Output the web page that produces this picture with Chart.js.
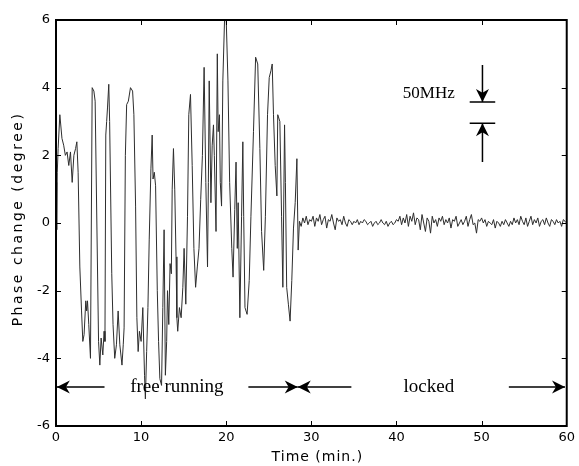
<!DOCTYPE html>
<html>
<head>
<meta charset="utf-8">
<script src="https://cdn.jsdelivr.net/npm/chart.js@4.4.1/dist/chart.umd.min.js"></script>
<style>
  html, body { margin: 0; padding: 0; background: #fff; }
</style>
</head>
<body>
<canvas id="phaseChart" width="579" height="466"></canvas>
<script>
// Free running part: times (min.) and phase change (degree)
const freeT = [0.0, 0.08, 0.15, 0.25, 0.45, 0.7, 0.9, 1.1, 1.3, 1.5, 1.7, 1.9, 2.1, 2.3, 2.45, 2.6, 2.8, 3.0, 3.15, 3.3,
  3.5, 3.6, 3.7, 3.85, 4.05, 4.25, 4.45, 4.6, 4.8, 5.0, 5.15, 5.3, 5.5, 5.65, 5.75, 5.85, 5.95, 6.05, 6.2, 6.3,
  6.55, 6.7, 6.9, 7.1, 7.3, 7.5, 7.75, 7.9, 8.0, 8.15, 8.3, 8.5, 8.75, 9.0, 9.15, 9.35, 9.5, 9.65, 9.8, 10.0,
  10.2, 10.4, 10.5, 10.65, 10.8, 10.95, 11.15, 11.3, 11.4, 11.55, 11.7, 11.9, 12.05, 12.2, 12.4, 12.55, 12.7, 12.85, 13.0, 13.1,
  13.25, 13.4, 13.55, 13.65, 13.8, 13.95, 14.1, 14.2, 14.3, 14.5, 14.7, 14.9, 15.05, 15.25, 15.45, 15.6, 15.8, 16.0, 16.2, 16.4,
  16.6, 16.8, 17.0, 17.2, 17.4, 17.6, 17.8, 17.9, 18.0, 18.2, 18.35, 18.5, 18.6, 18.8, 18.95, 19.05, 19.2, 19.3, 19.45, 19.6,
  19.8, 20.0, 20.2, 20.4, 20.65, 20.8, 21.0, 21.15, 21.3, 21.4, 21.6, 21.8, 21.95, 22.05, 22.2, 22.45, 22.7, 22.9, 23.2, 23.45,
  23.7, 23.95, 24.15, 24.4, 24.6, 24.85, 25.05, 25.25, 25.4, 25.55, 25.75, 25.95, 26.05, 26.3, 26.5, 26.65, 26.85, 26.95, 27.1, 27.3,
  27.5, 27.7, 27.9, 28.1, 28.3, 28.45];
const freeV = [1.2, -0.2, 1.5, 2.2, 3.2, 2.5, 2.3, 2.0, 2.1, 1.7, 2.1, 1.2, 2.0, 2.2, 2.4, 1.5, -1.3, -2.6, -3.5, -3.3,
  -2.3, -2.6, -2.3, -3.0, -4.0, 4.0, 3.9, 3.6, 0.0, -3.5, -4.2, -3.4, -3.9, -3.2, -3.5, 2.6, 3.0, 3.4, 4.1, 3.0,
  -1.5, -3.0, -4.0, -3.6, -2.6, -3.6, -4.2, -3.6, -3.1, 2.0, 3.5, 3.6, 4.0, 3.9, 3.2, 0.5, -2.8, -3.8, -3.2, -3.5,
  -2.5, -4.5, -5.2, -3.8, -2.5, -0.5, 1.6, 2.6, 1.3, 1.5, 1.1, -2.0, -3.5, -4.6, -4.8, -2.5, -0.2, -4.5, -3.5, -2.0,
  -3.0, -1.2, -1.5, 1.0, 2.2, 1.0, -1.0, -2.8, -3.2, -2.5, -2.8, -1.9, -0.75, -2.4, 0.2, 3.2, 3.8, 1.7, -0.75, -1.9,
  -1.3, -0.75, 0.7, 2.0, 4.6, 1.2, -1.3, 1.2, 4.2, 0.6, 2.3, 2.9, 2.0, -0.25, 5.0, 2.7, 3.2, 1.2, 0.5, 4.2,
  6.0, 6.0, 4.2, 1.2, -0.75, -1.6, 0.4, 1.8, -0.75, 0.6, -2.8, 0.2, 2.4, 0.2, -2.5, -2.7, -1.7, 0.2, 2.7, 4.9,
  4.7, 2.2, -0.25, -1.4, 0.2, 3.2, 4.3, 4.5, 4.7, 3.2, 1.7, 0.8, 3.2, 3.0, 0.2, -1.9, 2.9, 1.2, -1.9, -2.4,
  -2.9, -1.7, -0.15, 0.6, 1.9, -0.8];

// Locked part: one reading every 0.2 min. from 28.6 to 60
const lockStart = 28.6;
const lockStep = 0.2;
const lockV = [0.05, -0.1, 0.15, 0.0, 0.2, -0.05, 0.1, 0.05, 0.2, -0.1, 0.15, 0.05, 0.25, -0.05, 0.1, 0.2,
  -0.15, 0.1, 0.05, 0.25, 0.0, -0.2, 0.15, 0.05, 0.1, -0.05, 0.2, 0.0, -0.1, 0.1, 0.05, -0.05,
  0.05, 0.0, 0.1, -0.05, 0.05, 0.0, 0.1, 0.05, -0.05, 0.0, 0.05, -0.1, 0.0, 0.05, -0.05, 0.0, 0.1, 0.0,
  -0.05, 0.05, -0.1, 0.0, 0.05, -0.05, 0.0,
  0.1, 0.05, 0.2, -0.05, 0.15, 0.0, 0.25, -0.1, 0.2, 0.05, 0.3, -0.05, 0.15, 0.1, -0.2, 0.25, 0.0, -0.25, 0.15, 0.05,
  -0.3, 0.2, 0.0, 0.1, -0.1, 0.15, 0.05, 0.2, -0.05, 0.1, 0.0, 0.15, -0.15, 0.1, 0.05, 0.2, -0.1, 0.0, 0.1, -0.05,
  0.05, 0.2, -0.1, 0.1, 0.25, -0.05, 0.0, -0.3, 0.1, 0.05, 0.15, 0.0, 0.1, -0.1, 0.05, 0.0, -0.05, 0.1, -0.15, 0.05,
  0.0, -0.1, 0.05, -0.05, 0.1, 0.0, -0.1, 0.05, -0.05, 0.15, 0.0, 0.1, -0.05, 0.2, 0.05,
  -0.05, 0.15, -0.1, 0.05, 0.2, -0.05, 0.1, 0.0, 0.15, -0.1, 0.05, 0.1, -0.05, 0.15, 0.0, -0.1, 0.1, 0.05, -0.05, 0.1,
  0.0, 0.05, -0.1, 0.1, 0.05, 0.0];

const xTicks = [0, 10, 20, 30, 40, 50, 60];
const yTicks = [-6, -4, -2, 0, 2, 4, 6];
const xTitle = 'Time (min.)';
const yTitle = 'Phase change (degree)';

const points = freeT.map((t, i) => ({ x: t, y: freeV[i] }))
  .concat(lockV.map((v, i) => ({ x: +(lockStart + i * lockStep).toFixed(2), y: v })));

// filled arrow head, tip at (x, y), pointing along (dx, dy)
function arrowHead(ctx, x, y, dx, dy, len, half) {
  const nx = -dy, ny = dx;
  ctx.beginPath();
  ctx.moveTo(x, y);
  ctx.lineTo(x - dx * len + nx * half, y - dy * len + ny * half);
  ctx.lineTo(x - dx * len * 0.7, y - dy * len * 0.7);
  ctx.lineTo(x - dx * len - nx * half, y - dy * len - ny * half);
  ctx.closePath();
  ctx.fill();
}

function hArrow(ctx, xs, x0, x1, yPix, headAt) {
  const p0 = xs.getPixelForValue(x0), p1 = xs.getPixelForValue(x1);
  ctx.beginPath();
  ctx.moveTo(p0, yPix);
  ctx.lineTo(p1, yPix);
  ctx.stroke();
  if (headAt === 'start') arrowHead(ctx, p0, yPix, -1, 0, 13, 6.5);
  else arrowHead(ctx, p1, yPix, 1, 0, 13, 6.5);
}

const decorPlugin = {
  id: 'decor',
  afterDatasetsDraw(chart) {
    const { ctx, chartArea: a, scales: { x, y } } = chart;
    ctx.save();
    ctx.strokeStyle = '#000';
    ctx.fillStyle = '#000';

    // inward tick marks on all four sides
    ctx.lineWidth = 1;
    ctx.beginPath();
    xTicks.slice(1, -1).forEach(t => {
      const px = Math.round(x.getPixelForValue(t)) + 0.5;
      ctx.moveTo(px, a.bottom); ctx.lineTo(px, a.bottom - 5);
      ctx.moveTo(px, a.top); ctx.lineTo(px, a.top + 5);
    });
    yTicks.slice(1, -1).forEach(v => {
      const py = Math.round(y.getPixelForValue(v)) + 0.5;
      ctx.moveTo(a.left, py); ctx.lineTo(a.left + 5, py);
      ctx.moveTo(a.right, py); ctx.lineTo(a.right - 5, py);
    });
    ctx.stroke();

    // frame
    ctx.lineWidth = 2;
    ctx.strokeRect(a.left, a.top, a.right - a.left, a.bottom - a.top);

    // free running / locked arrows
    const ay = y.getPixelForValue(-4.85);
    ctx.lineWidth = 1.5;
    hArrow(ctx, x, 0.1, 5.7, ay, 'start');
    hArrow(ctx, x, 22.6, 28.4, ay, 'end');
    hArrow(ctx, x, 28.4, 34.7, ay, 'start');
    hArrow(ctx, x, 53.2, 59.8, ay, 'end');

    ctx.font = '19px "Liberation Serif"';
    ctx.textAlign = 'center';
    ctx.textBaseline = 'middle';
    ctx.fillText('free running', x.getPixelForValue(14.2), ay);
    ctx.fillText('locked', x.getPixelForValue(43.8), ay);

    // 50MHz scale marker
    const mx = x.getPixelForValue(50.1);
    const bar1 = y.getPixelForValue(3.58), bar2 = y.getPixelForValue(2.95);
    const bl = x.getPixelForValue(48.6), br = x.getPixelForValue(51.6);
    ctx.lineWidth = 1.5;
    ctx.beginPath();
    ctx.moveTo(mx, y.getPixelForValue(4.67)); ctx.lineTo(mx, bar1);
    ctx.moveTo(bl, bar1); ctx.lineTo(br, bar1);
    ctx.moveTo(bl, bar2); ctx.lineTo(br, bar2);
    ctx.moveTo(mx, bar2); ctx.lineTo(mx, y.getPixelForValue(1.8));
    ctx.stroke();
    arrowHead(ctx, mx, bar1, 0, 1, 13, 6.5);
    arrowHead(ctx, mx, bar2, 0, -1, 13, 6.5);

    ctx.font = '17px "Liberation Serif"';
    ctx.fillText('50MHz', x.getPixelForValue(43.8), y.getPixelForValue(3.82));

    // axis titles, drawn here so they can be spaced out like the original
    ctx.font = '14px "DejaVu Sans"';
    ctx.letterSpacing = '1px';
    ctx.fillText(xTitle, (a.left + a.right) / 2 + 6, 457);
    ctx.translate(18, (a.top + a.bottom) / 2 - 4);
    ctx.rotate(-Math.PI / 2);
    ctx.letterSpacing = '2.5px';
    ctx.fillText(yTitle, 0, 0);
    ctx.restore();
  }
};

new Chart(document.getElementById('phaseChart').getContext('2d'), {
  type: 'line',
  data: {
    datasets: [{
      data: points,
      borderColor: '#2e2e2e',
      borderWidth: 1,
      pointRadius: 0,
      tension: 0,
      fill: false
    }]
  },
  options: {
    responsive: false,
    animation: false,
    events: [],
    layout: { padding: { top: 20, right: 9, left: 0, bottom: 0 } },
    plugins: { legend: { display: false }, tooltip: { enabled: false } },
    scales: {
      x: {
        type: 'linear',
        min: 0,
        max: 60,
        afterBuildTicks: s => { s.ticks = xTicks.map(v => ({ value: v })); },
        afterFit: s => { s.height = 40; },
        grid: { display: false, drawTicks: false },
        border: { display: false },
        ticks: { color: '#000', padding: 4, maxRotation: 0, font: { family: 'DejaVu Sans', size: 13 } }
      },
      y: {
        min: -6,
        max: 6,
        afterBuildTicks: s => { s.ticks = yTicks.map(v => ({ value: v })); },
        afterFit: s => { s.width = 56; },
        grid: { display: false, drawTicks: false },
        border: { display: false },
        ticks: { color: '#000', padding: 6, font: { family: 'DejaVu Sans', size: 13 } }
      }
    }
  },
  plugins: [decorPlugin]
});
</script>
</body>
</html>
